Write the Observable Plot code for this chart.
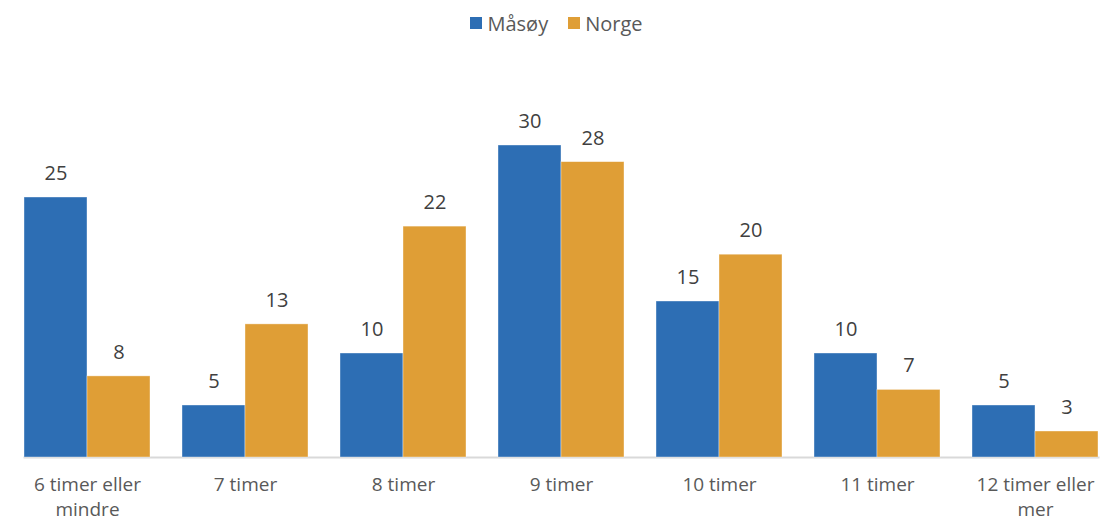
<!DOCTYPE html>
<html>
<head>
<meta charset="utf-8">
<script src="https://cdn.jsdelivr.net/npm/d3@7"></script>
<script src="https://cdn.jsdelivr.net/npm/@observablehq/plot@0.6"></script>
<style>
  html, body { margin: 0; padding: 0; background: #fff; }
  #legend { height: 40px; display: flex; justify-content: center; align-items: center; padding-left: 29px; padding-top: 16px; box-sizing: border-box; }
  #legend svg { margin-right: 5px !important; }
  #chart svg { display: block; }
</style>
</head>
<body>
<div id="legend"></div>
<div id="chart"></div>
<script>
const categories = ["6 timer eller mindre", "7 timer", "8 timer", "9 timer", "10 timer", "11 timer", "12 timer eller mer"];
const tickLabels = ["6 timer eller\nmindre", "7 timer", "8 timer", "9 timer", "10 timer", "11 timer", "12 timer eller\nmer"];
const series = ["Måsøy", "Norge"];
const masoy = [25, 5, 10, 30, 15, 10, 5];
const norge = [7.8, 12.8, 22.2, 28.4, 19.5, 6.5, 2.5];
const seriesColors = ["#2D6EB4", "#DF9E36"];

const FONT = "'Open Sans', sans-serif";

const data = categories.flatMap((c, i) => [
  {category: c, series: series[0], value: masoy[i]},
  {category: c, series: series[1], value: norge[i]}
]);

const legend = Plot.legend({
  color: {domain: series, range: seriesColors},
  swatchSize: 12,
  style: {fontFamily: FONT, fontSize: "20px", color: "#595959"}
});
document.getElementById("legend").append(legend);

const chart = Plot.plot({
  width: 1104,
  height: 479,
  marginLeft: 8,
  marginRight: -10,
  marginTop: 1,
  marginBottom: 62,
  style: {fontFamily: FONT, fontSize: "20px", color: "#595959", background: "#fff"},
  fx: {domain: categories, paddingInner: 32 / 158, paddingOuter: 16 / 158, label: null, axis: null},
  x: {domain: series, padding: 0, axis: null},
  y: {domain: [0, 40], axis: null},
  color: {domain: series, range: seriesColors},
  marks: [
    Plot.frame({anchor: "bottom", facet: "super", stroke: "#D9D9D9", strokeWidth: 2}),
    Plot.barY(data, {fx: "category", x: "series", y: "value", fill: "series", stroke: "#fff", strokeOpacity: 0.5, strokeWidth: 0.75}),
    Plot.text(data, {fx: "category", x: "series", y: "value", text: d => d3.format(".0f")(d.value), dy: -24, fill: "#404040", fontSize: 20}),
    Plot.axisFx({anchor: "bottom", tickSize: 0, tickPadding: 16, lineHeight: 1.3, fontSize: 19, fill: "#595959",
      tickFormat: d => tickLabels[categories.indexOf(d)], label: null})
  ]
});
document.getElementById("chart").append(chart);
</script>
</body>
</html>
